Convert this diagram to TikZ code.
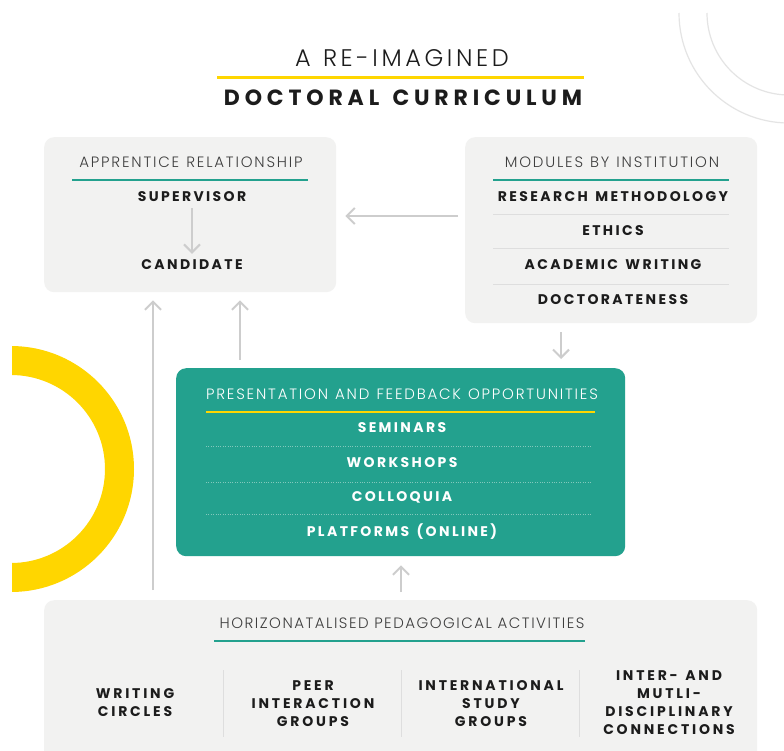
\documentclass[tikz,border=0pt]{standalone}
\usepackage{fontspec}
\usetikzlibrary{arrows.meta}
\setmainfont{Poppins}
% font families with their tracking; fall back to regular Poppins if a weight is missing
\newcommand\mkfam[4]{\IfFontExistsTF{#2}{\newfontfamily#1{#2}[LetterSpace=#3,WordSpace=#4]}{\newfontfamily#1{Poppins}[LetterSpace=#3,WordSpace=#4]}}
\mkfam\titlelight{Poppins Light}{15}{1.2}
\mkfam\titleheavy{Poppins Bold}{22}{1.4}
\mkfam\headlight{Poppins Light}{12}{1.2}
\mkfam\footlight{Poppins Light}{10}{1.0}
\mkfam\itemheavy{Poppins Bold}{17}{1.4}
\mkfam\colheavy{Poppins Bold}{20}{1.3}

\definecolor{panelgray}{RGB}{242,242,241}
\definecolor{teal}{RGB}{35,161,142}
\definecolor{sun}{RGB}{255,214,0}
\definecolor{arrowgray}{RGB}{205,205,205}
\definecolor{rulegray}{RGB}{222,222,222}
\definecolor{dotteal}{RGB}{130,200,188}
\definecolor{ink}{RGB}{28,28,28}
\definecolor{arcgray}{RGB}{228,228,228}

\tikzset{
  panel/.style={fill=panelgray, rounded corners=10pt, inner sep=0pt, anchor=north west},
  tealpanel/.style={fill=teal, rounded corners=10pt, inner sep=0pt, anchor=north west},
  head/.style={inner sep=0pt, anchor=center, text=ink!85, font=\headlight\fontsize{15}{17}\selectfont},
  entry/.style={inner sep=0pt, anchor=center, text=ink, font=\itemheavy\fontsize{14}{16}\selectfont},
  colentry/.style={inner sep=0pt, anchor=center, align=center, text=ink, font=\colheavy\fontsize{14}{18}\selectfont},
  tealrule/.style={draw=teal, line width=2.2pt},
  sunrule/.style={draw=sun, line width=2.6pt},
  thinrule/.style={draw=rulegray, line width=0.8pt},
  dotrule/.style={draw=dotteal, line width=0.8pt, dash pattern=on 0.8pt off 1.6pt},
  arr/.style={draw=arrowgray, line width=2pt, -{Straight Barb[length=8pt,width=16pt]}},
}

\begin{document}
\begin{tikzpicture}[x=1pt,y=-1pt]
\useasboundingbox (0,0) rectangle (784,750);
\clip (0,0) rectangle (784,750);
\fill[white] (0,0) rectangle (784,750);

% decorative arcs, top right
\draw[arcgray, line width=1.2pt] (679,13) arc[start angle=180, end angle=90, radius=110];
\draw[arcgray, line width=1.2pt] (707,13) arc[start angle=180, end angle=90, radius=82];

% yellow half ring, left
\begin{scope}
  \clip (12,300) rectangle (200,640);
  \draw[sun, line width=29pt] (11,469) circle[radius=108.5];
\end{scope}

% title
\node[inner sep=0pt, text=ink, font=\titlelight\fontsize{24}{28}\selectfont] (t1) at (402,58.5) {A RE-IMAGINED};
\draw[sunrule, line width=3pt] (217,77) -- (584,77);
\node[inner sep=0pt, text=ink, font=\titleheavy\fontsize{22}{26}\selectfont] (t2) at (403,97.5) {DOCTORAL CURRICULUM};

% apprentice relationship panel
\node[panel, minimum width=292pt, minimum height=155pt] (app) at (44,137) {};
\node[head] (apph) at (191,162) {APPRENTICE RELATIONSHIP};
\draw[tealrule] (72,180) -- (308,180);
\node[entry] (sup) at (192,197) {SUPERVISOR};
\node[entry] (cand) at (192,265) {CANDIDATE};

% modules panel
\node[panel, minimum width=292pt, minimum height=186pt] (mod) at (465,137) {};
\node[head] (modh) at (612,162) {MODULES BY INSTITUTION};
\draw[tealrule] (493,180) -- (729,180);
\node[entry] (m1) at (613,197) {RESEARCH METHODOLOGY};
\node[entry] (m2) at (613,231) {ETHICS};
\node[entry] (m3) at (613,265) {ACADEMIC WRITING};
\node[entry] (m4) at (613,300) {DOCTORATENESS};
\draw[thinrule] (493,214) -- (729,214);
\draw[thinrule] (493,248) -- (729,248);
\draw[thinrule] (493,284) -- (729,284);

% presentation and feedback panel
\node[tealpanel, minimum width=449pt, minimum height=188pt] (pf) at (176,368) {};
\node[head, text=white] (pfh) at (402,394) {PRESENTATION AND FEEDBACK OPPORTUNITIES};
\draw[sunrule] (206,412) -- (595,412);
\node[entry, text=white] (p1) at (402,428) {SEMINARS};
\node[entry, text=white] (p2) at (402,463) {WORKSHOPS};
\node[entry, text=white] (p3) at (402,497) {COLLOQUIA};
\node[entry, text=white] (p4) at (402,532) {PLATFORMS (ONLINE)};
\draw[dotrule] (206,446) -- (592,446);
\draw[dotrule] (206,482) -- (592,482);
\draw[dotrule] (206,514) -- (592,514);

% horizontalised activities panel
\node[panel, minimum width=713pt, minimum height=170pt] (hz) at (44,600) {};
\node[head, font=\footlight\fontsize{15}{17}\selectfont] (hzh) at (402,623) {HORIZONATALISED PEDAGOGICAL ACTIVITIES};
\draw[tealrule] (214,641) -- (585,641);
\node[colentry] (c1) at (135,703) {WRITING\\CIRCLES};
\node[colentry] (c2) at (313,703.5) {PEER\\INTERACTION\\GROUPS};
\node[colentry] (c3) at (491,703.5) {INTERNATIONAL\\STUDY\\GROUPS};
\node[colentry] (c4) at (669,703) {INTER- AND\\MUTLI-\\DISCIPLINARY\\CONNECTIONS};
\draw[thinrule] (223,670) -- (223,737);
\draw[thinrule] (401,670) -- (401,737);
\draw[thinrule] (579,670) -- (579,737);

% connectors
\draw[arr, shorten <=6pt, shorten >=6pt] (sup) -- (cand);
\draw[arr, shorten <=7pt, shorten >=9pt] (mod.west |- 0,216) -- (app.east |- 0,216);
\draw[arr, shorten <=9pt, shorten >=9pt] (561,0 |- mod.south) -- (561,0 |- pf.north);
\draw[arr, shorten <=8pt, shorten >=8pt] (240,0 |- pf.north) -- (240,0 |- app.south);
\draw[arr, shorten <=10pt, shorten >=8pt] (153,0 |- hz.north) -- (153,0 |- app.south);
\draw[arr, shorten <=8pt, shorten >=9pt] (401,0 |- hz.north) -- (401,0 |- pf.south);
\end{tikzpicture}
\end{document}
